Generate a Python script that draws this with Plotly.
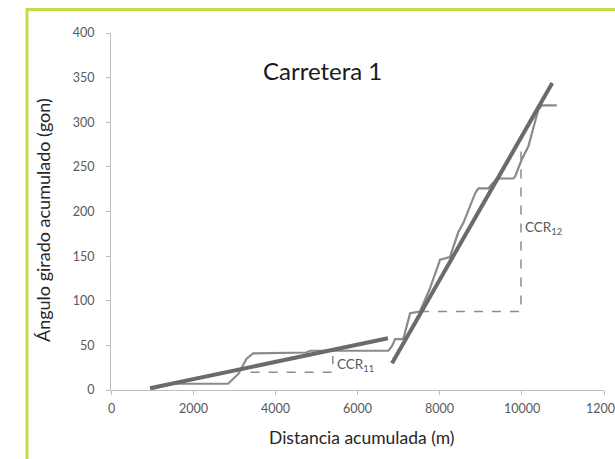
import plotly.graph_objects as go

# Data
curve_x = [1000, 1500, 2850, 3100, 3300, 3460, 4750, 4850, 6750, 6850, 6915, 7115, 7280, 7520,
           7765, 8010, 8250, 8455, 8575, 8860, 8940, 9185, 9390, 9790, 9835, 9995, 10160, 10280,
           10400, 10485, 10850]
curve_y = [1, 7, 7, 18, 35, 41, 42, 44, 44, 50, 57, 57, 86, 88,
           114, 146, 149, 177, 187, 220, 226, 226, 237, 237, 239, 258, 273, 295,
           314, 319, 319]

fit1_x = [950, 6740]
fit1_y = [2, 58]
fit2_x = [6840, 10740]
fit2_y = [30, 344]

ccr11_x = [3400, 5400, 5400]
ccr11_y = [20, 20, 38]
ccr12_x = [7520, 9980, 9980]
ccr12_y = [88, 88, 272]

title_text = "Carretera 1"
x_title = "Distancia acumulada (m)"
y_title = "Ángulo girado acumulado (gon)"
x_ticks = [0, 2000, 4000, 6000, 8000, 10000, 12000]
y_ticks = [0, 50, 100, 150, 200, 250, 300, 350, 400]

W, H = 615, 459
L, R, T, B = 111, 11, 33, 69
PW, PH = W - L - R, H - T - B

def px(xp):
    return (xp - L) / PW

def py(yp):
    return (H - B - yp) / PH

FONT = "Lato, 'Open Sans', sans-serif"
TICKFONT = dict(family=FONT, size=12.5, color="#595959")

fig = go.Figure()
fig.add_trace(go.Scatter(x=ccr11_x, y=ccr11_y, mode="lines",
                         line=dict(color="#8c8c8c", width=1.5, dash="dash"), hoverinfo="skip"))
fig.add_trace(go.Scatter(x=ccr12_x, y=ccr12_y, mode="lines",
                         line=dict(color="#8c8c8c", width=1.5, dash="dash"), hoverinfo="skip"))
fig.add_trace(go.Scatter(x=curve_x, y=curve_y, mode="lines",
                         line=dict(color="#8a8a8a", width=2.2), hoverinfo="skip"))
fig.add_trace(go.Scatter(x=fit1_x, y=fit1_y, mode="lines",
                         line=dict(color="#6b6b6b", width=4), hoverinfo="skip"))
fig.add_trace(go.Scatter(x=fit2_x, y=fit2_y, mode="lines",
                         line=dict(color="#6b6b6b", width=4), hoverinfo="skip"))

axis_common = dict(showgrid=False, zeroline=False, showline=True, linecolor="#bfbfbf",
                   linewidth=1, ticks="outside", ticklen=4, tickcolor="#bfbfbf",
                   tickfont=TICKFONT)

# x tick labels drawn as annotations so the last one is cut by the page edge like the reference
fig.update_xaxes(range=[0, 12000], tickvals=x_ticks, showticklabels=False, **axis_common)
fig.update_yaxes(range=[0, 400], tickvals=y_ticks, ticktext=[str(v) for v in y_ticks],
                 ticklabelstandoff=9, **axis_common)

annotations = [
    dict(text=str(v), x=v, y=py(408), xref="x", yref="paper", showarrow=False,
         font=TICKFONT, xanchor="center", yanchor="middle") for v in x_ticks
]
annotations += [
    dict(text=title_text, x=px(322), y=py(71), xref="paper", yref="paper", showarrow=False,
         font=dict(family=FONT, size=24, color="#1a1a1a"), xanchor="center", yanchor="middle"),
    dict(text=x_title, x=px(361), y=py(437), xref="paper", yref="paper", showarrow=False,
         font=dict(family=FONT, size=17.5, color="#262626"), xanchor="center", yanchor="middle"),
    dict(text=y_title, x=px(43), y=py(220), xref="paper", yref="paper", showarrow=False, textangle=-90,
         font=dict(family=FONT, size=18, color="#262626"), xanchor="center", yanchor="middle"),
    dict(text="CCR<sub>11</sub>", x=5450, y=28, xref="x", yref="y", showarrow=False,
         font=dict(family=FONT, size=13.5, color="#595959"), xanchor="left", yanchor="middle"),
    dict(text="CCR<sub>12</sub>", x=10040, y=181, xref="x", yref="y", showarrow=False,
         font=dict(family=FONT, size=13.5, color="#595959"), xanchor="left", yanchor="middle"),
]

shapes = [
    dict(type="rect", xref="paper", yref="paper", x0=px(27), y0=py(480), x1=px(650), y1=py(9.5),
         line=dict(color="#c8da47", width=3), fillcolor="rgba(0,0,0,0)", layer="below"),
]

fig.update_layout(width=W, height=H, margin=dict(l=L, r=R, t=T, b=B, pad=0),
                  paper_bgcolor="white", plot_bgcolor="white", showlegend=False,
                  annotations=annotations, shapes=shapes)

fig.write_html("out.html")
